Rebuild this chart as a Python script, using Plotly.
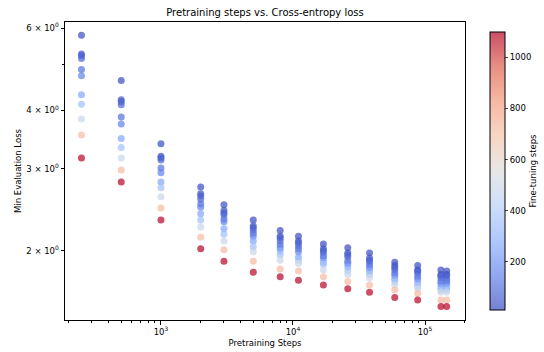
import plotly.graph_objects as go

# Pretraining steps (x) and fine-tuning steps (colour)
pretrain_steps = [250, 500, 1000, 2000, 3000, 5000, 8000, 11000, 17000,
                  26000, 38000, 59000, 88000, 132000, 146000]
finetune_steps = [10, 25, 50, 75, 100, 150, 250, 350, 480, 720, 1100]

# Min evaluation loss per pretraining checkpoint (one value per fine-tuning step)
loss_250 = [5.79, 5.28, 5.23, 5.16, 4.89, 4.74, 4.32, 4.12, 3.83, 3.54, 3.16]
loss_500 = [4.63, 4.21, 4.17, 4.11, 3.87, 3.74, 3.48, 3.33, 3.16, 2.98, 2.81]
loss_1000 = [3.39, 3.19, 3.16, 3.13, 3.01, 2.94, 2.81, 2.73, 2.61, 2.47, 2.33]
loss_2000 = [2.74, 2.65, 2.62, 2.58, 2.52, 2.48, 2.40, 2.33, 2.25, 2.14, 2.02]
loss_3000 = [2.51, 2.44, 2.41, 2.39, 2.34, 2.31, 2.23, 2.17, 2.10, 2.01, 1.90]
loss_5000 = [2.33, 2.26, 2.24, 2.21, 2.18, 2.15, 2.10, 2.04, 1.99, 1.90, 1.80]
loss_8000 = [2.21, 2.15, 2.13, 2.10, 2.06, 2.03, 2.00, 1.96, 1.91, 1.83, 1.76]
loss_11000 = [2.15, 2.10, 2.08, 2.05, 2.02, 1.99, 1.94, 1.91, 1.88, 1.81, 1.73]
loss_17000 = [2.07, 2.02, 2.00, 1.98, 1.95, 1.93, 1.89, 1.87, 1.82, 1.76, 1.69]
loss_26000 = [2.03, 1.98, 1.96, 1.94, 1.90, 1.88, 1.85, 1.81, 1.78, 1.72, 1.66]
loss_38000 = [1.98, 1.93, 1.91, 1.89, 1.86, 1.84, 1.81, 1.78, 1.75, 1.69, 1.63]
loss_59000 = [1.89, 1.86, 1.84, 1.82, 1.79, 1.77, 1.74, 1.72, 1.69, 1.65, 1.59]
loss_88000 = [1.86, 1.82, 1.81, 1.79, 1.76, 1.74, 1.71, 1.68, 1.66, 1.62, 1.57]
loss_132000 = [1.82, 1.78, 1.77, 1.75, 1.72, 1.70, 1.67, 1.65, 1.63, 1.57, 1.52]
loss_146000 = [1.81, 1.78, 1.77, 1.74, 1.72, 1.70, 1.67, 1.65, 1.63, 1.57, 1.52]

loss_columns = [loss_250, loss_500, loss_1000, loss_2000, loss_3000, loss_5000,
                loss_8000, loss_11000, loss_17000, loss_26000, loss_38000,
                loss_59000, loss_88000, loss_132000, loss_146000]

y_tick_vals = [2, 3, 4, 6]
y_tick_text = ["2 × 10<sup>0</sup>", "3 × 10<sup>0</sup>",
               "4 × 10<sup>0</sup>", "6 × 10<sup>0</sup>"]
x_tick_vals = [1000, 10000, 100000]
x_tick_text = ["10<sup>3</sup>", "10<sup>4</sup>", "10<sup>5</sup>"]
cbar_ticks = [200, 400, 600, 800, 1000]

xs, ys, cs = [], [], []
for p, col in zip(pretrain_steps, loss_columns):
    for f, l in zip(finetune_steps, col):
        xs.append(p)
        ys.append(l)
        cs.append(f)

a = 0.7
coolwarm = [
    (0.0, (59, 76, 192)), (0.125, (98, 130, 234)), (0.25, (141, 176, 254)),
    (0.375, (184, 208, 246)), (0.5, (221, 221, 221)), (0.625, (245, 196, 173)),
    (0.75, (244, 154, 123)), (0.875, (222, 96, 77)), (1.0, (180, 4, 38)),
]
colorscale = [[v, f"rgba({r},{g},{b},{a})"] for v, (r, g, b) in coolwarm]

minor_x = [m * 10 ** e for e in (2, 3, 4, 5) for m in range(2, 10)
           if 187 < m * 10 ** e < 201000]

font = "DejaVu Sans, Arial, sans-serif"

fig = go.Figure(go.Scatter(
    x=xs, y=ys, mode="markers",
    marker=dict(
        size=7, color=cs, colorscale=colorscale, line=dict(width=0),
        cmin=10, cmax=1100,
        showscale=True,
        colorbar=dict(
            x=1.0375, xanchor="left", xref="paper", y=0.5, yanchor="middle",
            len=1.0, lenmode="fraction", thickness=15,
            outlinewidth=1, outlinecolor="black",
            tickvals=cbar_ticks, ticks="outside", ticklen=3,
            tickfont=dict(size=8.5, color="black", family=font),
            title=dict(text="Fine-tuning steps", side="right",
                       font=dict(size=8.5, color="black", family=font)),
        ),
    ),
    showlegend=False,
))

fig.update_layout(
    width=544, height=352,
    margin=dict(l=65, r=79, t=22, b=32, autoexpand=False),
    paper_bgcolor="white", plot_bgcolor="white",
    font=dict(family=font, size=8.5, color="black"),
    title=dict(text="Pretraining steps vs. Cross-entropy loss",
               x=(65 + 200) / 544, xanchor="center", y=1 - 12 / 352, yanchor="middle",
               font=dict(size=10, color="black", family=font)),
    xaxis=dict(
        type="log", range=[2.273, 5.303],
        tickvals=x_tick_vals, ticktext=x_tick_text,
        ticks="outside", ticklen=3.5, tickcolor="black",
        showline=True, linecolor="black", linewidth=1, mirror=True,
        showgrid=False, zeroline=False,
        minor=dict(tickvals=minor_x, ticks="outside", ticklen=2, tickcolor="black",
                   showgrid=False),
        title=dict(text="Pretraining Steps", standoff=4,
                   font=dict(size=8.5, color="black", family=font)),
    ),
    yaxis=dict(
        type="log", range=[0.153, 0.791],
        tickvals=y_tick_vals, ticktext=y_tick_text,
        ticks="outside", ticklen=3.5, tickcolor="black",
        showline=True, linecolor="black", linewidth=1, mirror=True,
        showgrid=False, zeroline=False,
        minor=dict(tickvals=[5], ticks="outside", ticklen=2, tickcolor="black",
                   showgrid=False),
        title=dict(text="Min Evaluation Loss", standoff=3,
                   font=dict(size=8.5, color="black", family=font)),
    ),
)

fig.write_html("out.html")
